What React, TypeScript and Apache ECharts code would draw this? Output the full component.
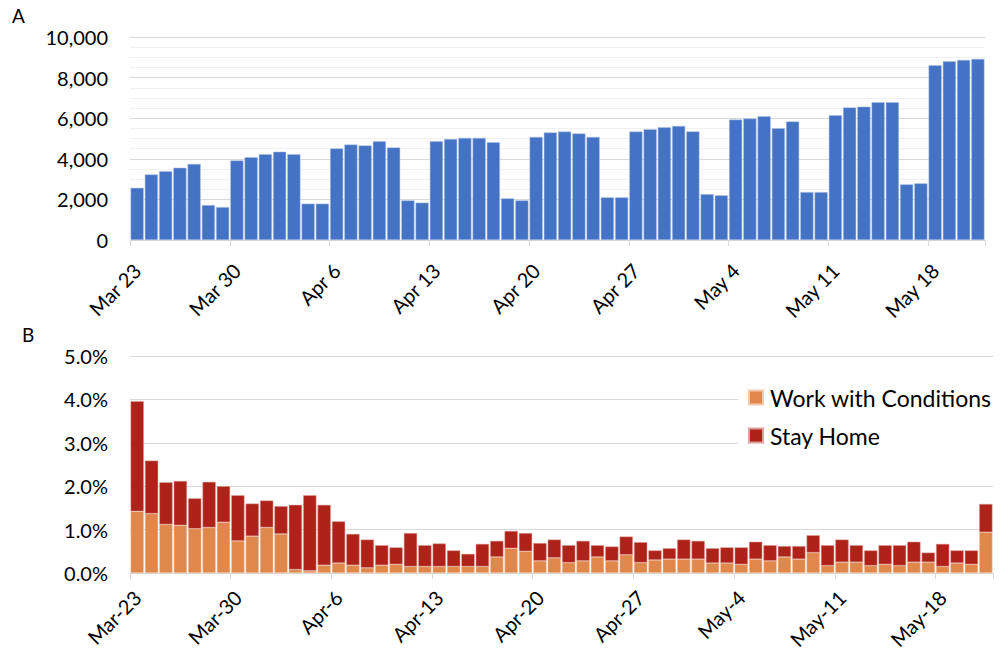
import React, { useEffect, useRef } from "react";
import * as echarts from "echarts";

const dates: string[] = [
  "Mar 23", "Mar 24", "Mar 25", "Mar 26", "Mar 27", "Mar 28", "Mar 29",
  "Mar 30", "Mar 31", "Apr 1", "Apr 2", "Apr 3", "Apr 4", "Apr 5",
  "Apr 6", "Apr 7", "Apr 8", "Apr 9", "Apr 10", "Apr 11", "Apr 12",
  "Apr 13", "Apr 14", "Apr 15", "Apr 16", "Apr 17", "Apr 18", "Apr 19",
  "Apr 20", "Apr 21", "Apr 22", "Apr 23", "Apr 24", "Apr 25", "Apr 26",
  "Apr 27", "Apr 28", "Apr 29", "Apr 30", "May 1", "May 2", "May 3",
  "May 4", "May 5", "May 6", "May 7", "May 8", "May 9", "May 10",
  "May 11", "May 12", "May 13", "May 14", "May 15", "May 16", "May 17",
  "May 18", "May 19", "May 20", "May 21",
];

const datesB: string[] = dates.map((d) => d.replace(" ", "-"));

const dailyCount: number[] = [
  2570, 3230, 3390, 3560, 3750, 1720, 1620,
  3920, 4080, 4230, 4350, 4230, 1790, 1790,
  4510, 4700, 4660, 4870, 4560, 1950, 1840,
  4870, 4970, 5030, 5030, 4820, 2050, 1950,
  5080, 5300, 5340, 5250, 5080, 2100, 2100,
  5340, 5460, 5560, 5620, 5350, 2260, 2200,
  5930, 5980, 6100, 5510, 5840, 2360, 2360,
  6150, 6530, 6570, 6790, 6790, 2740, 2790,
  8610, 8800, 8870, 8920,
];

const workWithConditions: number[] = [
  1.42, 1.37, 1.12, 1.10, 1.02, 1.05, 1.17,
  0.74, 0.85, 1.05, 0.90, 0.08, 0.05, 0.18,
  0.23, 0.18, 0.12, 0.18, 0.20, 0.15, 0.15,
  0.15, 0.15, 0.15, 0.15, 0.37, 0.57, 0.50,
  0.28, 0.35, 0.24, 0.28, 0.37, 0.28, 0.42,
  0.24, 0.30, 0.32, 0.32, 0.32, 0.23, 0.23,
  0.20, 0.32, 0.28, 0.37, 0.32, 0.47, 0.17,
  0.25, 0.25, 0.17, 0.20, 0.17, 0.25, 0.25,
  0.15, 0.23, 0.20, 0.94,
];

const stayHome: number[] = [
  2.54, 1.22, 0.97, 1.02, 0.70, 1.05, 0.83,
  1.05, 0.75, 0.62, 0.64, 1.49, 1.74, 1.39,
  0.96, 0.72, 0.65, 0.46, 0.39, 0.77, 0.49,
  0.53, 0.37, 0.29, 0.52, 0.37, 0.40, 0.42,
  0.41, 0.42, 0.40, 0.46, 0.27, 0.33, 0.42,
  0.47, 0.22, 0.25, 0.45, 0.42, 0.34, 0.36,
  0.39, 0.40, 0.36, 0.25, 0.30, 0.40, 0.47,
  0.52, 0.39, 0.35, 0.44, 0.47, 0.47, 0.22,
  0.52, 0.29, 0.32, 0.65,
];

const FONT = "Lato, 'Noto Sans', sans-serif";
const weekly = (i: number) => i % 7 === 0;

export default function App() {
  const ref = useRef<HTMLDivElement>(null);

  useEffect(() => {
    if (!ref.current) return;
    const chart = echarts.init(ref.current, undefined, { renderer: "svg" });

    const xAxisCommon = (data: string[], gridIndex: number, margin: number) => ({
      type: "category",
      gridIndex,
      data,
      boundaryGap: true,
      axisLine: { lineStyle: { color: "#D9D9D9", width: 1 } },
      axisTick: {
        show: true,
        interval: (i: number) => weekly(i),
        length: 6,
        lineStyle: { color: "#D9D9D9" },
      },
      axisLabel: {
        interval: (i: number) => weekly(i),
        rotate: 45,
        align: "right",
        verticalAlign: "middle",
        margin,
        fontSize: 20,
        fontFamily: FONT,
        color: "#000",
      },
      splitLine: { show: false },
    });

    chart.setOption({
      animation: false,
      backgroundColor: "#fff",
      textStyle: { fontFamily: FONT },
      grid: [
        { left: 130, right: 18, top: 37, height: 203, containLabel: false, outerBoundsMode: "none" },
        { left: 130, right: 10, top: 356, height: 217, containLabel: false, outerBoundsMode: "none" },
      ],
      graphic: [
        { type: "text", left: 12, top: 6, style: { text: "A", fontSize: 19, fontFamily: FONT, fill: "#000" } },
        { type: "text", left: 22, top: 325, style: { text: "B", fontSize: 19, fontFamily: FONT, fill: "#000" } },
      ],
      legend: {
        orient: "vertical",
        left: 738,
        top: 378,
        backgroundColor: "#fff",
        padding: [8, 6, 8, 10],
        itemWidth: 14,
        itemHeight: 14,
        itemGap: 15,
        icon: "rect",
        data: ["Work with Conditions", "Stay Home"],
        textStyle: { fontSize: 23, fontFamily: FONT, color: "#000", padding: [0, 0, 0, 2] },
      },
      xAxis: [xAxisCommon(dates, 0, 27), xAxisCommon(datesB, 1, 21)],
      yAxis: [
        {
          type: "value",
          gridIndex: 0,
          min: 0,
          max: 10000,
          interval: 2000,
          axisLine: { show: false },
          axisTick: { show: false },
          axisLabel: {
            fontSize: 20,
            fontFamily: FONT,
            color: "#000",
            margin: 22,
            formatter: (v: number) => v.toLocaleString("en-US"),
          },
          splitLine: { lineStyle: { color: "#D9D9D9" } },
          minorTick: { show: false, splitNumber: 4 },
          minorSplitLine: { show: true, lineStyle: { color: "#F0F0F0" } },
        },
        {
          type: "value",
          gridIndex: 1,
          min: 0,
          max: 5,
          interval: 1,
          axisLine: { show: false },
          axisTick: { show: false },
          axisLabel: {
            fontSize: 20,
            fontFamily: FONT,
            color: "#000",
            margin: 22,
            formatter: (v: number) => v.toFixed(1) + "%",
          },
          splitLine: { lineStyle: { color: "#D9D9D9" } },
        },
      ],
      series: [
        {
          name: "Daily",
          type: "bar",
          xAxisIndex: 0,
          yAxisIndex: 0,
          data: dailyCount,
          barCategoryGap: "8%",
          itemStyle: { color: "#4472C4", borderColor: "#AFC3E6", borderWidth: 0.5 },
        },
        {
          name: "Work with Conditions",
          type: "bar",
          stack: "b",
          xAxisIndex: 1,
          yAxisIndex: 1,
          data: workWithConditions,
          barCategoryGap: "8%",
          itemStyle: { color: "#E0874B", borderColor: "#F3C9AC", borderWidth: 0.5 },
        },
        {
          name: "Stay Home",
          type: "bar",
          stack: "b",
          xAxisIndex: 1,
          yAxisIndex: 1,
          data: stayHome,
          barCategoryGap: "8%",
          itemStyle: { color: "#AE2219", borderColor: "#DDA09B", borderWidth: 0.5 },
        },
      ],
    });

    return () => chart.dispose();
  }, []);

  return (
    <div
      ref={ref}
      style={{ position: "absolute", left: 0, top: 0, width: 1003, height: 658 }}
    />
  );
}
